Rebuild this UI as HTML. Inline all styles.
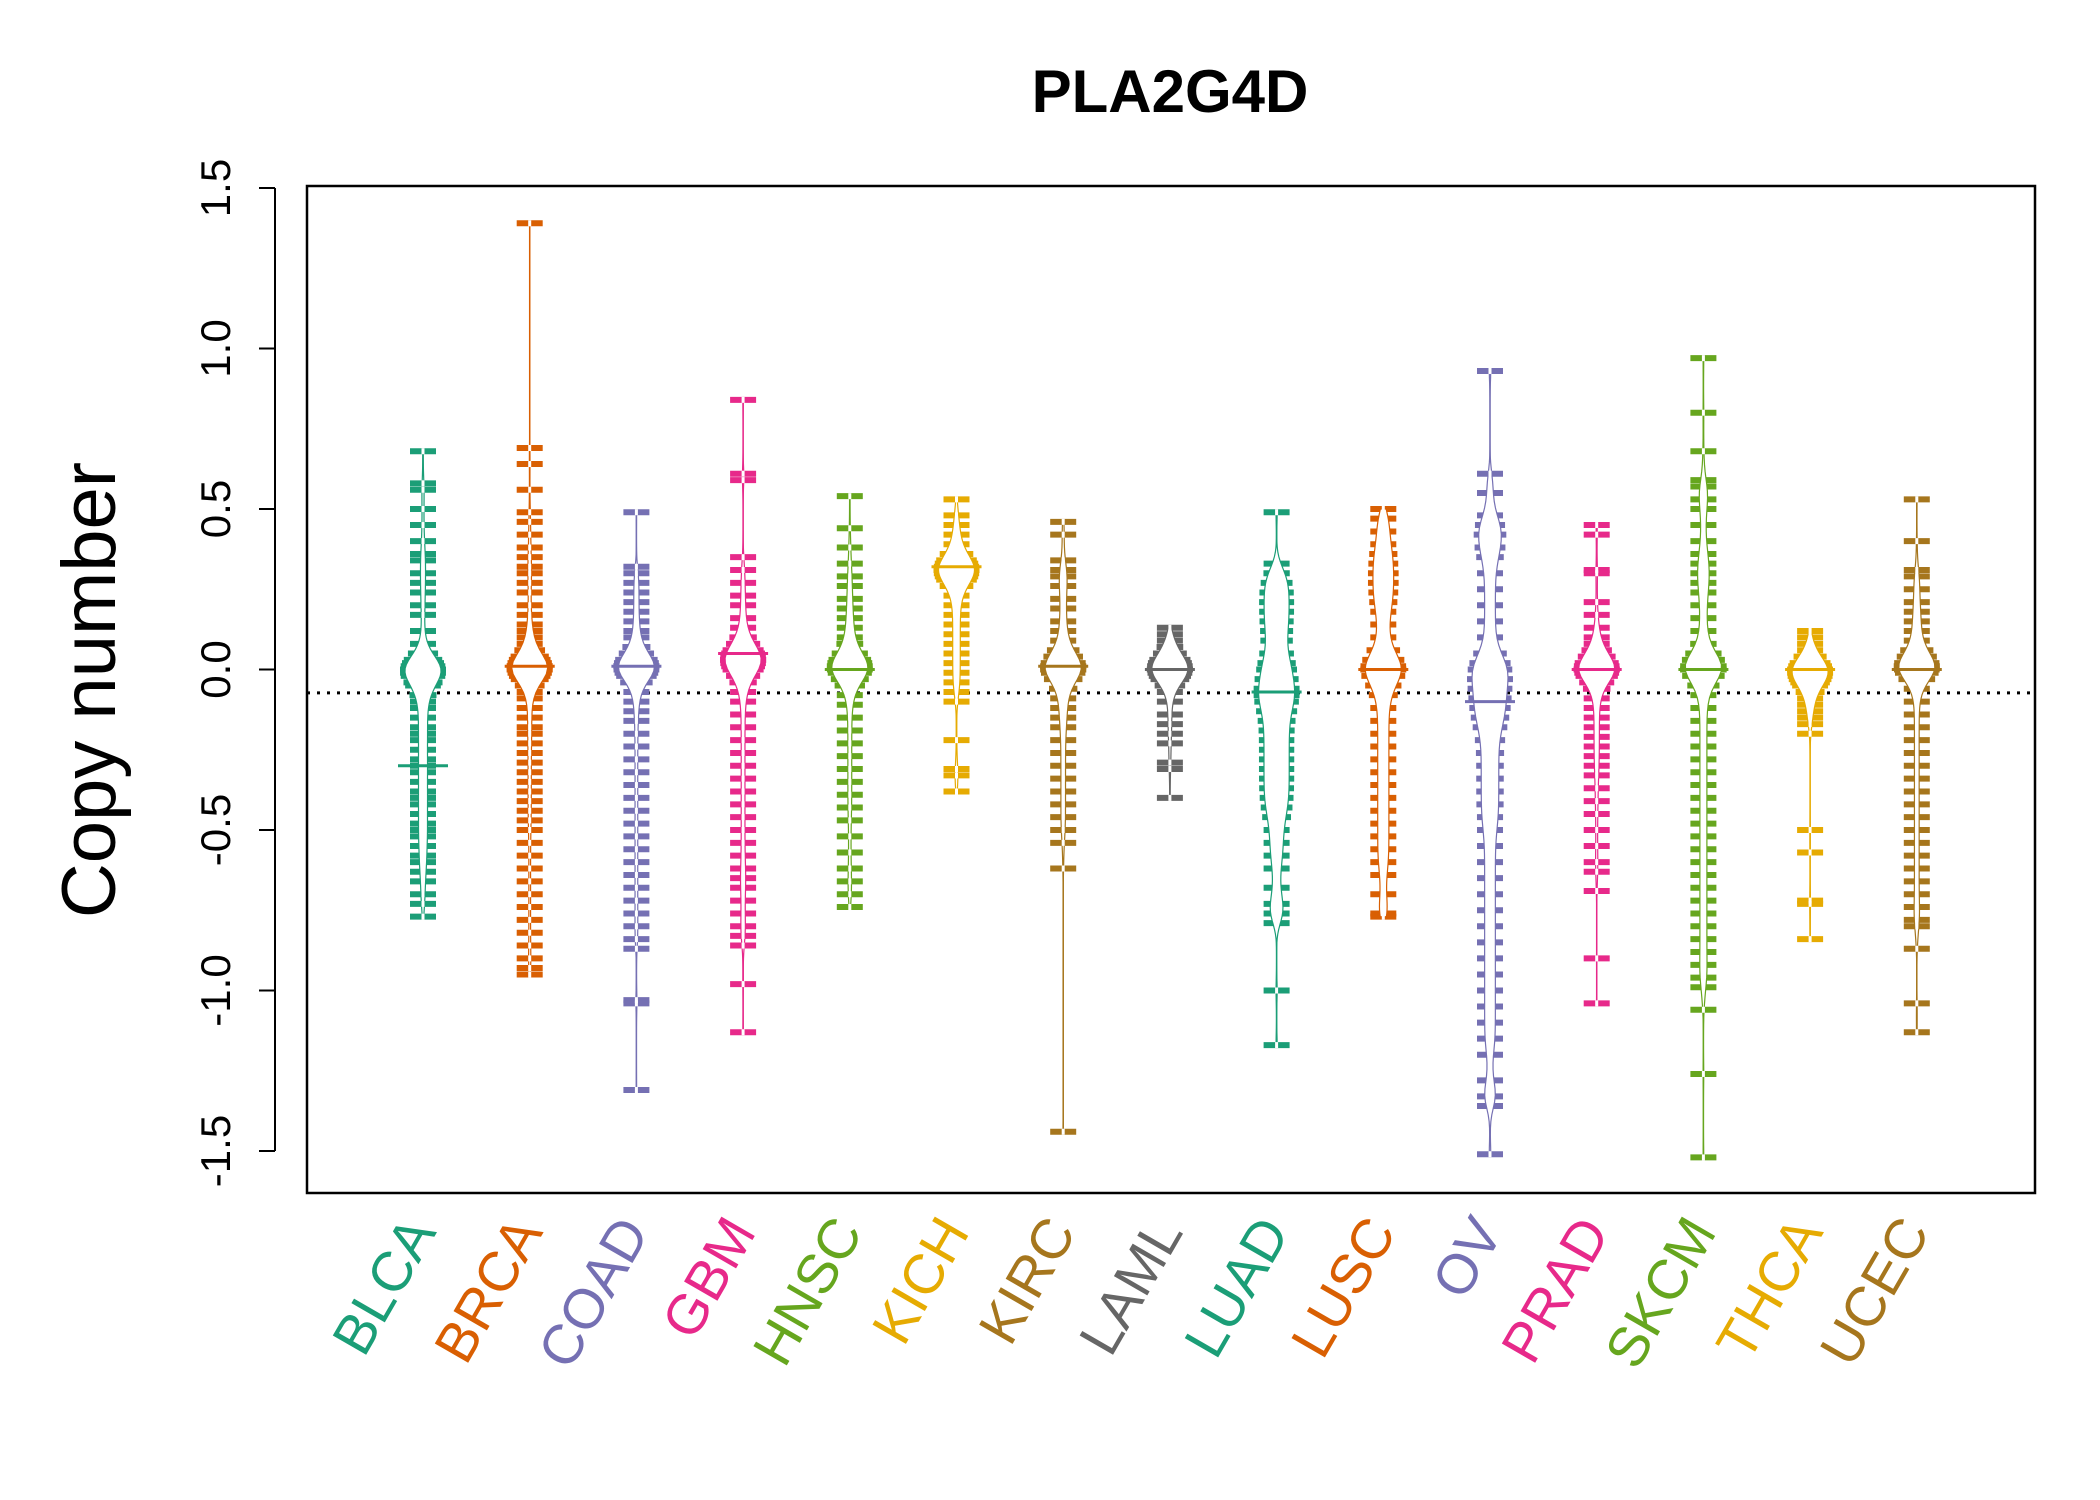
<!DOCTYPE html>
<html><head><meta charset="utf-8"><style>
html,body{margin:0;padding:0;background:#fff;}
svg{display:block;font-family:"Liberation Sans",sans-serif;}
</style></head><body>
<svg id="chart" width="2100" height="1500" viewBox="0 0 2100 1500" xmlns="http://www.w3.org/2000/svg">
<text x="1170" y="112" text-anchor="middle" font-size="60" font-weight="bold">PLA2G4D</text>
<text transform="translate(115,690) rotate(-90)" text-anchor="middle" font-size="76">Copy number</text>
<rect x="307" y="186" width="1728" height="1007" fill="none" stroke="#000" stroke-width="2.5"/>
<g id="yaxis"></g>
<g id="beans"></g>
<g id="xlabels"></g>
</svg>
<script>
const categories=["BLCA","BRCA","COAD","GBM","HNSC","KICH","KIRC","LAML","LUAD","LUSC","OV","PRAD","SKCM","THCA","UCEC"];
const colors=["#1B9E77","#D95F02","#7570B3","#E7298A","#66A61E","#E6AB02","#A6761D","#666666","#1B9E77","#D95F02","#7570B3","#E7298A","#66A61E","#E6AB02","#A6761D"];
const yTicks=[-1.5,-1.0,-0.5,0.0,0.5,1.0,1.5];
const yTickLabels=["-1.5","-1.0","-0.5","0.0","0.5","1.0","1.5"];
const overallMean=-0.073;
const medians=[-0.3,0.01,0.01,0.05,0.0,0.32,0.01,0.0,-0.07,0.0,-0.1,0.0,0.0,0.0,0.0];
const vBLCA=[0.68,0.58,0.56,0.5,0.45,0.4,0.36,0.34,0.3,0.27,0.24,0.2,0.17,0.12,0.08,0.05,0.03,0.02,0.01,0,0,-0.01,-0.02,-0.04,-0.05,-0.08,-0.1,-0.12,-0.15,-0.18,-0.2,-0.22,-0.25,-0.28,-0.3,-0.32,-0.35,-0.38,-0.4,-0.42,-0.45,-0.48,-0.5,-0.52,-0.55,-0.58,-0.6,-0.63,-0.66,-0.7,-0.73,-0.77];
const vBRCA=[1.39,0.69,0.64,0.56,0.49,0.46,0.42,0.38,0.35,0.32,0.3,0.27,0.24,0.2,0.17,0.14,0.12,0.1,0.08,0.06,0.04,0.03,0.02,0.01,0.01,0,0,0,-0.01,-0.02,-0.03,-0.05,-0.07,-0.09,-0.12,-0.15,-0.18,-0.2,-0.23,-0.26,-0.29,-0.32,-0.35,-0.38,-0.41,-0.44,-0.47,-0.5,-0.54,-0.58,-0.62,-0.66,-0.7,-0.74,-0.78,-0.82,-0.86,-0.9,-0.93,-0.95];
const vCOAD=[0.49,0.32,0.3,0.27,0.24,0.21,0.18,0.15,0.12,0.1,0.07,0.05,0.03,0.02,0.01,0.01,0,0,-0.01,-0.02,-0.04,-0.07,-0.1,-0.13,-0.16,-0.2,-0.24,-0.28,-0.32,-0.36,-0.4,-0.44,-0.48,-0.52,-0.56,-0.6,-0.64,-0.68,-0.72,-0.76,-0.8,-0.84,-0.87,-1.03,-1.04,-1.31];
const vGBM=[0.84,0.61,0.59,0.35,0.31,0.27,0.23,0.2,0.16,0.13,0.1,0.08,0.06,0.05,0.04,0.03,0.02,0.01,0,-0.02,-0.04,-0.07,-0.1,-0.14,-0.18,-0.22,-0.26,-0.3,-0.34,-0.38,-0.42,-0.46,-0.5,-0.54,-0.58,-0.62,-0.65,-0.68,-0.72,-0.76,-0.8,-0.83,-0.86,-0.98,-1.13];
const vHNSC=[0.54,0.44,0.38,0.33,0.29,0.26,0.22,0.19,0.16,0.13,0.1,0.08,0.05,0.03,0.02,0.01,0,0,-0.01,-0.03,-0.05,-0.08,-0.11,-0.15,-0.19,-0.23,-0.27,-0.31,-0.35,-0.39,-0.43,-0.47,-0.52,-0.57,-0.62,-0.66,-0.7,-0.74];
const vKICH=[0.53,0.48,0.45,0.42,0.39,0.36,0.34,0.33,0.32,0.31,0.3,0.29,0.28,0.26,0.23,0.2,0.17,0.14,0.11,0.08,0.05,0.02,-0.01,-0.04,-0.07,-0.1,-0.22,-0.31,-0.33,-0.38];
const vKIRC=[0.46,0.42,0.34,0.31,0.29,0.26,0.22,0.19,0.15,0.12,0.09,0.06,0.04,0.02,0.01,0,0,-0.01,-0.03,-0.06,-0.09,-0.12,-0.15,-0.18,-0.22,-0.26,-0.3,-0.34,-0.38,-0.42,-0.46,-0.5,-0.54,-0.62,-1.44];
const vLAML=[0.13,0.11,0.09,0.07,0.05,0.03,0.02,0.01,0,0,0,-0.01,-0.02,-0.03,-0.05,-0.07,-0.1,-0.14,-0.17,-0.2,-0.23,-0.29,-0.31,-0.4];
const vLUAD=[0.49,0.33,0.3,0.27,0.24,0.21,0.18,0.15,0.12,0.09,0.05,0.02,0,-0.03,-0.06,-0.08,-0.1,-0.13,-0.16,-0.19,-0.22,-0.25,-0.28,-0.31,-0.34,-0.37,-0.4,-0.43,-0.46,-0.5,-0.54,-0.58,-0.62,-0.68,-0.73,-0.76,-0.79,-1.0,-1.17];
const vLUSC=[0.5,0.47,0.43,0.39,0.36,0.33,0.3,0.27,0.24,0.21,0.18,0.14,0.1,0.06,0.03,0.01,0,-0.02,-0.05,-0.08,-0.12,-0.16,-0.2,-0.24,-0.28,-0.32,-0.36,-0.4,-0.44,-0.48,-0.52,-0.56,-0.6,-0.64,-0.7,-0.76,-0.77];
const vOV=[0.93,0.61,0.55,0.48,0.45,0.42,0.38,0.35,0.3,0.25,0.2,0.15,0.1,0.05,0.02,0,-0.03,-0.06,-0.09,-0.12,-0.15,-0.18,-0.22,-0.26,-0.3,-0.34,-0.38,-0.42,-0.46,-0.5,-0.55,-0.6,-0.65,-0.7,-0.75,-0.8,-0.85,-0.9,-0.95,-1.0,-1.05,-1.1,-1.15,-1.2,-1.28,-1.33,-1.36,-1.51];
const vPRAD=[0.45,0.42,0.31,0.3,0.21,0.17,0.13,0.1,0.08,0.06,0.04,0.02,0.01,0,0,0,-0.01,-0.02,-0.04,-0.06,-0.09,-0.12,-0.15,-0.18,-0.21,-0.24,-0.27,-0.3,-0.33,-0.37,-0.41,-0.45,-0.5,-0.55,-0.6,-0.63,-0.69,-0.9,-1.04];
const vSKCM=[0.97,0.8,0.68,0.59,0.57,0.53,0.5,0.45,0.4,0.36,0.33,0.3,0.27,0.24,0.2,0.16,0.12,0.08,0.05,0.03,0.01,0,0,-0.02,-0.05,-0.08,-0.12,-0.16,-0.2,-0.24,-0.28,-0.32,-0.36,-0.4,-0.44,-0.48,-0.52,-0.56,-0.6,-0.64,-0.68,-0.72,-0.76,-0.8,-0.84,-0.88,-0.92,-0.96,-0.99,-1.06,-1.26,-1.52];
const vTHCA=[0.12,0.1,0.08,0.06,0.04,0.02,0.01,0,0,0,0,-0.01,-0.02,-0.03,-0.04,-0.05,-0.07,-0.09,-0.11,-0.13,-0.15,-0.17,-0.2,-0.5,-0.57,-0.72,-0.73,-0.84];
const vUCEC=[0.53,0.4,0.31,0.29,0.25,0.21,0.18,0.15,0.12,0.09,0.06,0.04,0.02,0.01,0,0,-0.01,-0.03,-0.06,-0.1,-0.14,-0.18,-0.22,-0.26,-0.3,-0.34,-0.38,-0.42,-0.46,-0.5,-0.54,-0.58,-0.62,-0.66,-0.7,-0.74,-0.78,-0.8,-0.87,-1.04,-1.13];
const allValues=[vBLCA,vBRCA,vCOAD,vGBM,vHNSC,vKICH,vKIRC,vLAML,vLUAD,vLUSC,vOV,vPRAD,vSKCM,vTHCA,vUCEC];

const NS="http://www.w3.org/2000/svg";
const plotL=307,plotR=2035,plotT=186,plotB=1193;
function yScale(v){return 669.5-v*321;}
function xScale(i){return 423+i*106.7;}
function mk(tag,attrs,parent){const e=document.createElementNS(NS,tag);for(const k in attrs)e.setAttribute(k,attrs[k]);parent.appendChild(e);return e;}

const yaxis=document.getElementById('yaxis');
const axLine=mk('line',{x1:275,x2:275,y1:yScale(yTicks[0]),y2:yScale(yTicks[yTicks.length-1]),stroke:'#000','stroke-width':2},yaxis);


yTicks.forEach((t,i)=>{
  const y=yScale(t);
  const tk=mk('line',{x1:275,x2:259,y1:y,y2:y,stroke:'#000','stroke-width':2},yaxis);
  
  
  const tx=mk('text',{transform:`translate(230,${y}) rotate(-90)`,'text-anchor':'middle','font-size':42},yaxis);
  tx.textContent=yTickLabels[i];
  
  
});

const beans=document.getElementById('beans');
const ml=mk('line',{x1:plotL,x2:plotR,y1:yScale(overallMean),y2:yScale(overallMean),stroke:'#000','stroke-width':3,'stroke-dasharray':'3,7'},beans);



allValues.forEach((vals,i)=>{
  const cx=xScale(i),col=colors[i];
  const g=mk('g',{},beans);
  
  
  const mn=Math.min(...vals),mx=Math.max(...vals);
  const bw=0.05,maxW=18;
  function dens(y){let s=0;for(const v of vals){const z=(y-v)/bw;s+=Math.exp(-0.5*z*z);}return s;}
  const ys=[];for(let y=mn;y<=mx+1e-9;y+=(mx-mn)/120)ys.push(y);
  const ds=ys.map(dens);const dmax=Math.max(...ds);
  const hw=ds.map(d=>Math.pow(d/dmax,2.2)*maxW);
  function hwAt(v){return Math.pow(dens(v)/dmax,2.2)*maxW;}
  mk('line',{x1:cx,x2:cx,y1:yScale(mn),y2:yScale(mx),stroke:col,'stroke-width':1.5},g);
  vals.forEach(v=>{
    const y=yScale(v);const w=Math.max(13,hwAt(v)+5);
    const d=mk('line',{x1:cx-w,x2:cx+w,y1:y,y2:y,stroke:col,'stroke-width':6},g);
    
    
  });
  let pts=ys.map((y,k)=>`${cx+hw[k]},${yScale(y)}`);
  pts=pts.concat(ys.map((y,k)=>`${cx-hw[k]},${yScale(y)}`).reverse());
  const p=mk('polygon',{points:pts.join(' '),fill:'#fff',stroke:col,'stroke-width':1.2},g);
  
  
  vals.forEach(v=>{const y=yScale(v);mk('line',{x1:cx-1.5,x2:cx+1.5,y1:y,y2:y,stroke:'#fff','stroke-width':6},g);});
  const med=mk('line',{x1:cx-25,x2:cx+25,y1:yScale(medians[i]),y2:yScale(medians[i]),stroke:col,'stroke-width':3},g);
  
  
});

const xl=document.getElementById('xlabels');
categories.forEach((c,i)=>{
  const t=mk('text',{transform:`translate(${xScale(i)+14},1232) rotate(-60)`,'text-anchor':'end','font-size':56,fill:colors[i]},xl);
  t.textContent=c;
  
  
});
</script>
</body></html>
